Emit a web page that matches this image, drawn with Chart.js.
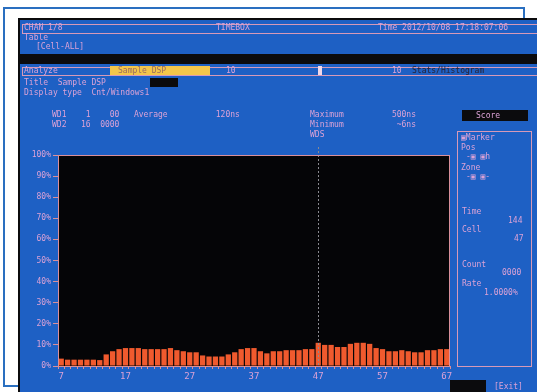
<!DOCTYPE html>
<html>
<head>
<meta charset="utf-8">
<script src="https://cdn.jsdelivr.net/npm/chart.js@4/dist/chart.umd.min.js"></script>
<style>
  html, body { margin: 0; padding: 0; background: #fff; width: 537px; height: 392px; overflow: hidden; }
  body { position: relative; font-family: 'DejaVu Sans Mono', monospace; }
  .frame { position: absolute; left: 3px; top: 7px; width: 518px; height: 376px; border: 2px solid #2a6fc0; }
  .screen { position: absolute; left: 18px; top: 18px; width: 519px; height: 374px; background: #0b0b0d; }
  .blue { position: absolute; background: #1e60c4; }
  .t { position: absolute; color: #dba2d6; font-size: 8px; line-height: 9px; white-space: pre; filter: blur(0.4px); }
  .box { position: absolute; border: 1px solid #d79ab8; }
  .blk { position: absolute; background: #0b0b0d; }
  .yel { position: absolute; background: #f3c64a; }
  canvas { position: absolute; left: 20px; top: 145px; }
</style>
</head>
<body>
<div class="frame"></div>
<div class="screen"></div>
<div class="blue" style="left:20px;top:20px;width:517px;height:34px;"></div>
<div class="blue" style="left:20px;top:64px;width:517px;height:328px;"></div>

<!-- header band -->
<div class="box" style="left:22px;top:24px;width:515px;height:8px;"></div>
<div class="t" style="left:24px;top:23px;">CHAN 1/8</div>
<div class="t" style="left:216px;top:23px;">TIMEBOX</div>
<div class="t" style="left:378px;top:23px;">Time 2012/10/08 17:18:07:06</div>
<div class="t" style="left:24px;top:33px;">Table</div>
<div class="t" style="left:36px;top:42px;">[Cell-ALL]</div>

<!-- analyze bar -->
<div class="box" style="left:22px;top:67px;width:515px;height:7px;"></div>
<div class="t" style="left:24px;top:66px;">Analyze</div>
<div class="yel" style="left:110px;top:66px;width:100px;height:9px;"></div>
<div class="t" style="left:118px;top:66px;color:#9a6a60;">Sample DSP</div>
<div class="t" style="left:226px;top:66px;">10</div>
<div style="position:absolute;left:318px;top:66px;width:4px;height:9px;background:#f0d8e8;"></div>
<div class="t" style="left:392px;top:66px;">10</div>
<div class="t" style="left:412px;top:66px;color:#2a2030;">Stats/Histogram</div>
<div class="t" style="left:24px;top:78px;">Title  Sample DSP</div>
<div class="blk" style="left:150px;top:78px;width:28px;height:9px;"></div>
<div class="t" style="left:24px;top:88px;">Display type  Cnt/Windows1</div>

<!-- stats rows -->
<div class="t" style="left:52px;top:110px;">WD1    1    00   Average          120ns</div>
<div class="t" style="left:52px;top:120px;">WD2   16  0000</div>
<div class="t" style="left:310px;top:110px;">Maximum          500ns</div>
<div class="t" style="left:310px;top:120px;">Minimum           ~6ns</div>
<div class="t" style="left:310px;top:130px;">WDS</div>

<!-- right panel -->
<div class="blk" style="left:462px;top:110px;width:66px;height:11px;"></div>
<div class="t" style="left:476px;top:111px;">Score</div>
<div class="box" style="left:457px;top:131px;width:73px;height:234px;"></div>
<div class="t" style="left:461px;top:133px;">&#9635;Marker</div>
<div class="t" style="left:461px;top:143px;">Pos</div>
<div class="t" style="left:466px;top:152px;">-&#9635; &#9635;h</div>
<div class="t" style="left:461px;top:163px;">Zone</div>
<div class="t" style="left:466px;top:172px;">-&#9635; &#9635;-</div>
<div class="t" style="left:462px;top:207px;">Time</div>
<div class="t" style="left:508px;top:216px;">144</div>
<div class="t" style="left:462px;top:225px;">Cell</div>
<div class="t" style="left:514px;top:234px;">47</div>
<div class="t" style="left:462px;top:260px;">Count</div>
<div class="t" style="left:502px;top:268px;">0000</div>
<div class="t" style="left:462px;top:279px;">Rate</div>
<div class="t" style="left:484px;top:288px;">1.0000%</div>
<div class="blk" style="left:450px;top:380px;width:36px;height:12px;"></div>
<div class="t" style="left:494px;top:382px;">[Exit]</div>

<canvas id="histChart" width="440" height="247"></canvas>

<script>
// cell numbers along the x axis
const cells = [];
for (let c = 7; c <= 67; c++) cells.push(c);

// percentage per cell
const ratio = [
    3.5, 3, 3, 3, 3, 3, 2.8, 5.5, 7, 8,
    8.5, 8.5, 8.5, 8, 8, 8, 8, 8.5, 7.5, 7,
    6.5, 6.5, 5, 4.5, 4.5, 4.5, 5.5, 6.5, 8, 8.5,
    8.5, 7, 6, 7, 7, 7.5, 7.5, 7.5, 8, 8,
    11, 10, 10, 9, 9, 10.5, 11, 11, 10.5, 8.5,
    8, 7, 7, 7.5, 7, 6.5, 6.5, 7.5, 7.5, 8,
    8
];

const yTicks = [0, 10, 20, 30, 40, 50, 60, 70, 80, 90, 100];
const labelStep = 10;
const markerCell = 47;

const pink = '#dba2d6';
const axisPink = '#d98f9a';

// black plot background + frame around it
const plotBg = {
    id: 'plotBg',
    beforeDraw(chart) {
        const { ctx, chartArea: a } = chart;
        ctx.save();
        ctx.fillStyle = '#050507';
        ctx.fillRect(a.left, a.top, a.right - a.left, a.bottom - a.top);
        ctx.restore();
    },
    afterDraw(chart) {
        const { ctx, chartArea: a } = chart;
        ctx.save();
        ctx.strokeStyle = axisPink;
        ctx.lineWidth = 1;
        ctx.strokeRect(a.left + 0.5, a.top + 0.5, a.right - a.left - 1, a.bottom - a.top);
        ctx.restore();
    }
};

// dotted marker cursor
const cursor = {
    id: 'cursor',
    afterDatasetsDraw(chart) {
        const { ctx, chartArea: a, scales } = chart;
        const x = Math.round(scales.x.getPixelForValue(cells.indexOf(markerCell))) + 0.5;
        ctx.save();
        ctx.strokeStyle = '#8a8a90';
        ctx.lineWidth = 1;
        ctx.setLineDash([2, 2]);
        ctx.beginPath();
        ctx.moveTo(x, a.top - 12);
        ctx.lineTo(x, a.bottom);
        ctx.stroke();
        ctx.restore();
    }
};

new Chart(document.getElementById('histChart'), {
    type: 'bar',
    data: {
        labels: cells,
        datasets: [{
            data: ratio,
            backgroundColor: '#f05a2e',
            borderWidth: 0,
            barPercentage: 0.82,
            categoryPercentage: 1
        }]
    },
    options: {
        responsive: false,
        devicePixelRatio: 1,
        animation: false,
        layout: { padding: { top: 10, right: 10, left: 0, bottom: 0 } },
        plugins: { legend: { display: false }, tooltip: { enabled: false } },
        scales: {
            x: {
                offset: true,
                afterFit: s => { s.height = 26; },
                grid: { display: true, drawOnChartArea: false, drawTicks: true, tickLength: 3, color: axisPink },
                border: { display: true, color: axisPink },
                ticks: {
                    autoSkip: false,
                    maxRotation: 0,
                    color: pink,
                    padding: 2,
                    font: { family: 'DejaVu Sans Mono', size: 9 },
                    callback: (v, i) => ((cells[i] - cells[0]) % labelStep === 0 ? String(cells[i]) : '')
                }
            },
            y: {
                min: yTicks[0],
                max: yTicks[yTicks.length - 1],
                afterFit: s => { s.width = 38; },
                afterBuildTicks: s => { s.ticks = yTicks.map(v => ({ value: v })); },
                grid: { display: true, drawOnChartArea: false, drawTicks: true, tickLength: 5, color: axisPink },
                border: { display: true, color: axisPink },
                ticks: {
                    color: pink,
                    padding: 2,
                    font: { family: 'DejaVu Sans Mono', size: 8 },
                    callback: v => v + '%'
                }
            }
        }
    },
    plugins: [plotBg, cursor]
});
</script>
</body>
</html>
